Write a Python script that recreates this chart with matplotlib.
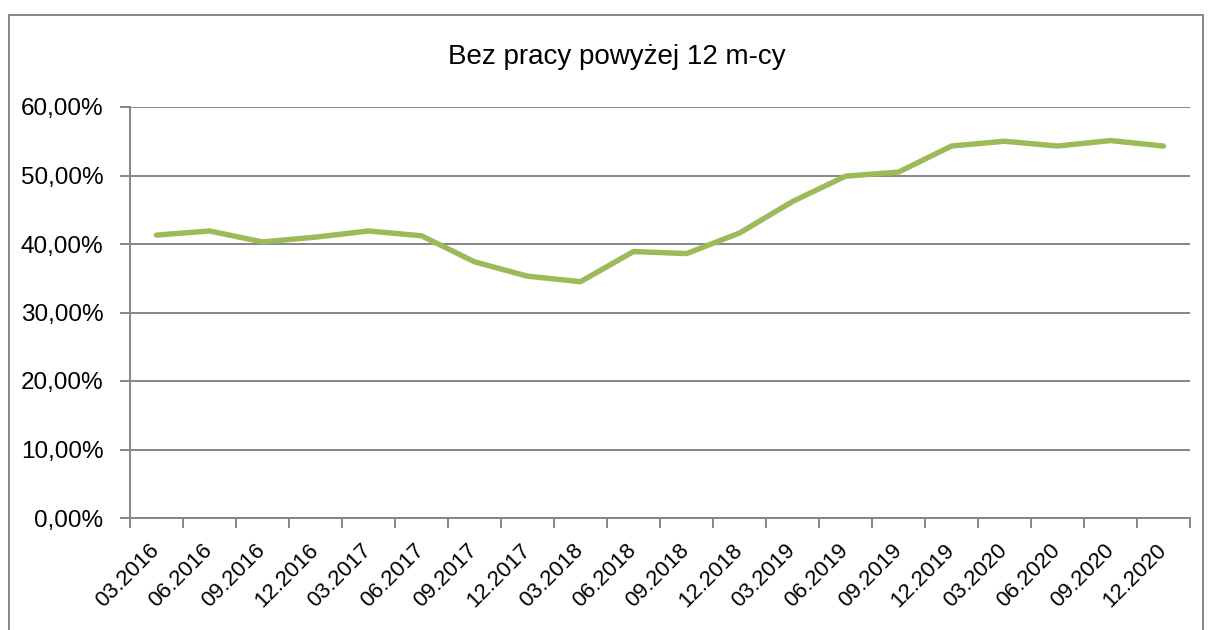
import matplotlib.pyplot as plt
from matplotlib.patches import Rectangle
from matplotlib.ticker import FixedLocator, FuncFormatter

months = ['03.2016', '06.2016', '09.2016', '12.2016', '03.2017', '06.2017',
          '09.2017', '12.2017', '03.2018', '06.2018', '09.2018', '12.2018',
          '03.2019', '06.2019', '09.2019', '12.2019', '03.2020', '06.2020',
          '09.2020', '12.2020']
share = [41.3, 41.9, 40.3, 41.0, 41.9, 41.2, 37.4, 35.3, 34.5, 38.9,
         38.6, 41.6, 46.2, 49.9, 50.5, 54.3, 55.0, 54.3, 55.1, 54.3]
y_ticks = [0, 10, 20, 30, 40, 50, 60]

plt.rcParams['font.family'] = ['Liberation Sans', 'DejaVu Sans']

fig = plt.figure(figsize=(12.08, 6.3), dpi=100)
ax = fig.add_axes([130 / 1208, 112 / 630, 1060 / 1208, 411 / 630])

grey = '#868686'
x = list(range(len(months)))
ax.plot(x, share, color='#9BBB59', lw=3.9, solid_capstyle='round', solid_joinstyle='round', zorder=3)

ax.set_ylim(0, 60)
ax.set_xlim(-0.5, len(months) - 0.5)
ax.set_yticks(y_ticks)
ax.yaxis.set_major_formatter(FuncFormatter(lambda v, p: f'{v:.2f}%'.replace('.', ',')))
ax.yaxis.grid(True, color=grey, lw=1.4)
ax.set_axisbelow(True)

# ticks sit on the category boundaries, labels on the centres
ax.xaxis.set_major_locator(FixedLocator([i - 0.5 for i in range(len(months) + 1)]))
ax.xaxis.set_major_formatter(FuncFormatter(lambda v, p: ''))
ax.set_xticks(x, minor=True)
ax.set_xticklabels(months, minor=True, rotation=45, ha='right', va='center', rotation_mode='anchor')
ax.tick_params(axis='x', which='minor', length=0, pad=21, labelsize=16)
ax.tick_params(axis='x', which='major', length=7, width=1.4, color=grey, direction='out')
ax.tick_params(axis='y', length=7, width=1.4, color=grey, labelsize=17.5, pad=12)

for s in ['top', 'right']:
    ax.spines[s].set_visible(False)
for s in ['left', 'bottom']:
    ax.spines[s].set_color(grey)
    ax.spines[s].set_linewidth(1.4)

fig.text(617 / 1208, 1 - 57 / 630, 'Bez pracy powyżej 12 m-cy', ha='center', va='center', fontsize=20)

fig.patches.append(Rectangle((9 / 1208, -0.1), 1194 / 1208, 1.1 - 15 / 630,
                             transform=fig.transFigure, fill=False, edgecolor=grey, lw=1.4))

fig.savefig('out.png', dpi=100)
